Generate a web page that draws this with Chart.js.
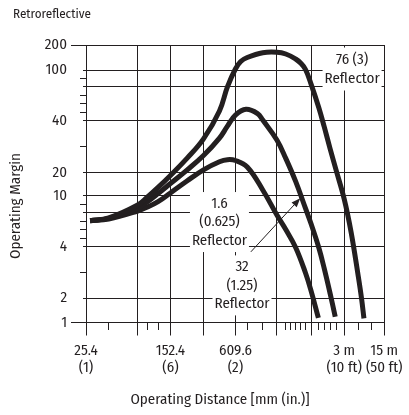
<!DOCTYPE html>
<html>
<head>
<meta charset="utf-8">
<title>Operating Margin – Retroreflective</title>
<script src="https://cdn.jsdelivr.net/npm/chart.js@4.4.1/dist/chart.umd.min.js"></script>
<style>
  html, body { margin: 0; padding: 0; background: #fff; }
  canvas { display: block; }
</style>
</head>
<body>
<canvas id="marginChart" width="409" height="415"></canvas>
<script>
// curves: distance in mm, operating margin (x)
const distance76 = [30, 50.8, 76.2, 101.6, 127, 152.4, 228.6, 304.8, 457.2, 533.4, 609.6, 650, 700, 850, 1000, 1200, 1500, 1650, 1800, 2000, 2200, 2400, 2600, 2800, 3048, 4500, 6000, 6750, 7300];
const margin76   = [7.06, 7.38, 8.9, 9.85, 13.6, 18.8, 25.5, 33, 51.5, 80, 104, 134, 150, 169, 171, 164, 144, 128, 102, 83, 55.6, 37.6, 29.1, 21, 9.6, 5.7, 2.86, 2.0, 1.17];

const distance32 = [30, 50.8, 76.2, 101.6, 127, 152.4, 228.6, 304.8, 457.2, 533.4, 609.6, 690, 800, 850, 1000, 1200, 1500, 1800, 2000, 2200, 2400, 2600, 2770];
const margin32   = [7.06, 7.34, 8.5, 9.3, 10.96, 15.3, 21.0, 26.6, 33.3, 37.9, 46.7, 53.5, 48.5, 40.8, 32.6, 25.5, 16.2, 8.5, 6.67, 3.97, 3.15, 2.17, 1.24];

const distance16 = [30, 50.8, 76.2, 101.6, 127, 152.4, 228.6, 304.8, 457.2, 533.4, 609.6, 700, 850, 1000, 1200, 1500, 1800, 2000, 2190];
const margin16   = [7.06, 7.26, 8.2, 8.67, 9.3, 11.2, 16.4, 21.1, 24.2, 25.0, 24.7, 22.2, 12.5, 7.73, 6.02, 3.97, 2.98, 2.28, 1.19];

// x axis: the printed scale is not a true log scale, so every tick is an anchor
const xTickValues = [25.4, 50.8, 76.2, 101.6, 127, 152.4, 304.8, 609.6, 700, 850, 1000, 1200, 1350, 1500, 1650, 1800, 2000, 2200, 2400, 2600, 2800, 3048, 6000, 9000, 15240];
const xTickSpots  = [0, 0.0762, 0.1732, 0.2063, 0.2417, 0.2831, 0.3940, 0.5010, 0.5407, 0.5927, 0.6401, 0.6699, 0.6864, 0.7030, 0.7195, 0.7361, 0.7550, 0.7805, 0.7990, 0.8189, 0.8387, 0.8659, 0.9129, 0.9570, 1];
const xGridValues = [25.4, 76.2, 152.4, 304.8, 609.6, 1000, 2000, 3048, 15240];
const xLabelValues = [25.4, 152.4, 609.6, 3048, 15240];
const xLabelText = [['25.4', '(1)'], ['152.4', '(6)'], ['609.6', '(2)'], ['3 m', '(10 ft)'], ['15 m', '(50 ft)']];

// y axis: piecewise linear between the labelled values
const yAnchorValues = [1, 2, 4, 10, 20, 40, 100, 200];
const yAnchorSpots  = [0, 0.0872, 0.2732, 0.4569, 0.5398, 0.7272, 0.9099, 1];
const yTickValues = [1, 2, 3, 4, 5, 6, 7, 8, 9, 10, 20, 30, 40, 50, 60, 70, 80, 90, 100, 200];
const yGridValues = [1, 2, 4, 8, 10, 20, 40, 80, 100, 200];
const yLabelValues = [1, 2, 4, 10, 20, 40, 100, 200];

const noteText = [['76 (3)', 'Reflector'], ['1.6', '(0.625)', 'Reflector'], ['32', '(1.25)', 'Reflector']];
const noteAt = [[4700, 104], [457.2, 6.9], [660, 2.5]];
const arrowFrom = [735, 3.8];
const arrowTo = [1640, 9.7];

const ink = '#231f20';
const fontFamily = "'Fira Sans Condensed', 'Roboto Condensed', 'DejaVu Sans Condensed', sans-serif";

const axisMaps = {
    x: { values: xTickValues, spots: xTickSpots, ticks: xTickValues },
    y: { values: yAnchorValues, spots: yAnchorSpots, ticks: yTickValues }
};

function toSpot(v, vals, spots) {
    let i = 1;
    while (i < vals.length - 1 && v > vals[i]) i++;
    const t = (v - vals[i - 1]) / (vals[i] - vals[i - 1]);
    return spots[i - 1] + t * (spots[i] - spots[i - 1]);
}

function fromSpot(s, vals, spots) {
    let i = 1;
    while (i < spots.length - 1 && s > spots[i]) i++;
    const t = (s - spots[i - 1]) / (spots[i] - spots[i - 1]);
    return vals[i - 1] + t * (vals[i] - vals[i - 1]);
}

// linear scale whose value -> pixel mapping follows the printed tick spacing
class SketchScale extends Chart.LinearScale {
    buildTicks() {
        return axisMaps[this.id].ticks.map(value => ({ value }));
    }
    getPixelForValue(value) {
        const m = axisMaps[this.id];
        return this.getPixelForDecimal(toSpot(value, m.values, m.spots));
    }
    getValueForPixel(pixel) {
        const m = axisMaps[this.id];
        return fromSpot(this.getDecimalForPixel(pixel), m.values, m.spots);
    }
}
SketchScale.id = 'sketch';
SketchScale.defaults = {};
Chart.register(SketchScale);

const sketchNotes = {
    id: 'sketchNotes',
    beforeDatasetsDraw(chart) {
        const { ctx, scales: { x, y } } = chart;
        ctx.save();
        ctx.font = '15px ' + fontFamily;
        ctx.textAlign = 'center';
        ctx.textBaseline = 'middle';
        const boxes = [[59, 43], [59, 60], [59, 60]];
        noteText.forEach((lines, i) => {
            const cx = x.getPixelForValue(noteAt[i][0]);
            const cy = y.getPixelForValue(noteAt[i][1]);
            ctx.fillStyle = '#fff';
            ctx.fillRect(cx - boxes[i][0] / 2, cy - boxes[i][1] / 2, boxes[i][0], boxes[i][1]);
            ctx.fillStyle = ink;
            lines.forEach((t, j) => {
                ctx.fillText(t, cx, cy + (j - (lines.length - 1) / 2) * 18.7);
            });
        });

        // arrow pointing at the 32 mm curve
        const x1 = x.getPixelForValue(arrowFrom[0]), y1 = y.getPixelForValue(arrowFrom[1]);
        const x2 = x.getPixelForValue(arrowTo[0]), y2 = y.getPixelForValue(arrowTo[1]);
        const ang = Math.atan2(y2 - y1, x2 - x1);
        const head = 9, half = 3.5;
        const bx = x2 - head * Math.cos(ang), by = y2 - head * Math.sin(ang);
        ctx.strokeStyle = ink;
        ctx.lineWidth = 1;
        ctx.beginPath();
        ctx.moveTo(x1, y1);
        ctx.lineTo(bx, by);
        ctx.stroke();
        ctx.beginPath();
        ctx.moveTo(x2, y2);
        ctx.lineTo(bx + half * Math.sin(ang), by - half * Math.cos(ang));
        ctx.lineTo(bx - half * Math.sin(ang), by + half * Math.cos(ang));
        ctx.closePath();
        ctx.fill();
        ctx.restore();
    },
    afterDraw(chart) {
        const { ctx, chartArea } = chart;
        ctx.save();
        ctx.font = '15px ' + fontFamily;
        ctx.fillStyle = ink;
        ctx.textAlign = 'center';
        ctx.textBaseline = 'middle';
        ctx.fillText('Operating Distance [mm (in.)]', chartArea.left + 134, chartArea.bottom + 77);
        ctx.translate(15.5, chartArea.top + 161);
        ctx.rotate(-Math.PI / 2);
        ctx.fillText('Operating Margin', 0, 0);
        ctx.restore();
    }
};

function curve(xs, ys) {
    return xs.map((d, i) => ({ x: d, y: ys[i] }));
}

const lineStyle = {
    borderColor: ink,
    borderWidth: 5,
    borderCapStyle: 'butt',
    borderJoinStyle: 'round',
    pointRadius: 0,
    tension: 0.4,
    fill: false
};

document.addEventListener('DOMContentLoaded', function () {
    Chart.defaults.font.family = fontFamily;
    Chart.defaults.font.size = 15;
    Chart.defaults.color = ink;

    new Chart(document.getElementById('marginChart'), {
        type: 'line',
        data: {
            datasets: [
                Object.assign({ label: '76 (3) Reflector', data: curve(distance76, margin76) }, lineStyle),
                Object.assign({ label: '32 (1.25) Reflector', data: curve(distance32, margin32) }, lineStyle),
                Object.assign({ label: '1.6 (0.625) Reflector', data: curve(distance16, margin16) }, lineStyle)
            ]
        },
        options: {
            responsive: false,
            animation: false,
            events: [],
            layout: { padding: { left: 13, right: 21, top: 0, bottom: 0 } },
            scales: {
                x: {
                    type: 'sketch',
                    min: 25.4,
                    max: 15240,
                    afterFit: (scale) => { scale.height = 92.5; },
                    border: { color: ink, width: 1 },
                    grid: {
                        color: (c) => xGridValues.includes(c.tick.value) ? ink : 'transparent',
                        lineWidth: 1,
                        tickLength: 13,
                        tickWidth: 1,
                        tickColor: ink,
                        tickBorderDash: (c) => xGridValues.includes(c.tick.value) ? [] : [7, 30]
                    },
                    ticks: {
                        autoSkip: false,
                        maxRotation: 0,
                        minRotation: 0,
                        padding: 6.5,
                        font: { size: 15, lineHeight: 1.13 },
                        callback: (value) => {
                            const i = xLabelValues.indexOf(value);
                            return i < 0 ? '' : xLabelText[i];
                        }
                    }
                },
                y: {
                    type: 'sketch',
                    min: 1,
                    max: 200,
                    afterFit: (scale) => { scale.width = 73; },
                    border: { color: ink, width: 1 },
                    grid: {
                        color: (c) => yGridValues.includes(c.tick.value) ? ink : 'transparent',
                        lineWidth: 1,
                        tickLength: 15,
                        tickWidth: 1,
                        tickColor: ink,
                        tickBorderDash: (c) => {
                            const v = c.tick.value;
                            if (v === 1 || v === 200) return [];
                            return yGridValues.includes(v) ? [0, 12, 3] : [0, 9, 6];
                        }
                    },
                    ticks: {
                        autoSkip: false,
                        padding: 4,
                        font: { size: 15 },
                        callback: (value) => yLabelValues.includes(value) ? String(value) : ''
                    }
                }
            },
            plugins: {
                legend: { display: false },
                tooltip: { enabled: false },
                title: {
                    display: true,
                    text: 'Retroreflective',
                    align: 'start',
                    color: ink,
                    font: { size: 13, weight: 'normal' },
                    padding: { top: 7, bottom: 22.4 }
                }
            }
        },
        plugins: [sketchNotes]
    });
});
</script>
</body>
</html>
